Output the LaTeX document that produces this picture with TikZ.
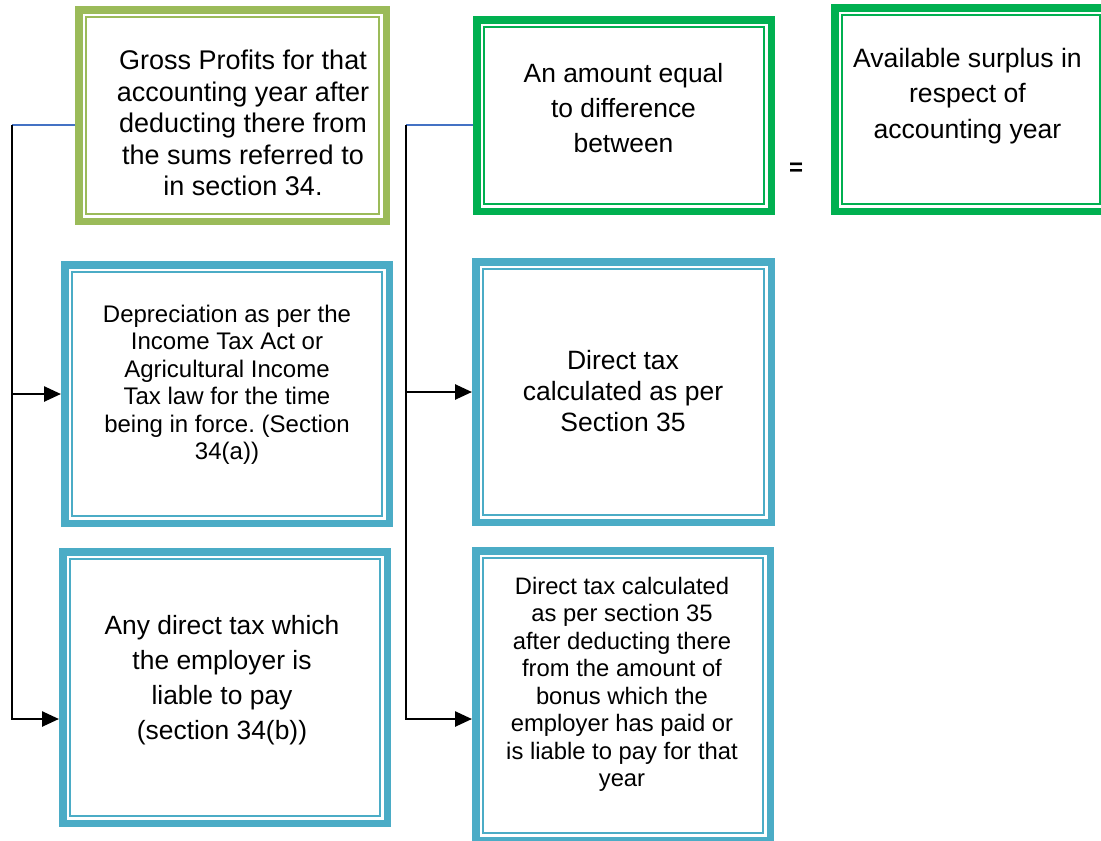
\documentclass[tikz,border=0pt]{standalone}
\usepackage{fontspec}
\setmainfont{Liberation Sans}
\usetikzlibrary{arrows.meta}
\definecolor{olivegreen}{HTML}{9BBB59}
\definecolor{brightgreen}{HTML}{00B050}
\definecolor{tealblue}{HTML}{4BACC6}
\definecolor{linkblue}{HTML}{4472C4}
\frenchspacing

\begin{document}
\begin{tikzpicture}[x=1pt,y=-1pt]
\tikzset{
  frame/.style={draw=#1, line width=7.5pt, rectangle, inner sep=0pt,
                outer sep=3.75pt, fill=white},
  boxtext/.style={anchor=north, inner sep=0pt, align=center, text=black},
  arrowline/.style={draw=black, line width=2.6pt, -{Triangle[length=17pt,width=15pt]}},
  link/.style={draw=linkblue, line width=1.5pt},
}
\useasboundingbox (0,0) rectangle (1101,841);
\clip (0,0) rectangle (1101,841);

% outer frames
\node[frame=olivegreen,  minimum width=307.5pt, minimum height=211.5pt] (b1) at (232.5,115.5) {};
\node[frame=brightgreen, minimum width=294.5pt, minimum height=191.5pt] (b2) at (624,115.5) {};
\node[frame=brightgreen, minimum width=272.5pt, minimum height=203.5pt] (b3) at (971,109.5) {};
\node[frame=tealblue,    minimum width=324.5pt, minimum height=258.5pt] (b4) at (227,394) {};
\node[frame=tealblue,    minimum width=324.5pt, minimum height=271.5pt] (b5) at (225,687.5) {};
\node[frame=tealblue,    minimum width=295.5pt, minimum height=260.5pt] (b6) at (623.5,392) {};
\node[frame=tealblue,    minimum width=294.5pt, minimum height=289.5pt] (b7) at (623,695.5) {};

% thin inner frames
\foreach \b/\c in {b1/olivegreen,b2/brightgreen,b3/brightgreen,b4/tealblue,b5/tealblue,b6/tealblue,b7/tealblue}
  \draw[draw=\c, line width=1.8pt]
    ([shift={(11pt,-11pt)}]\b.north west) rectangle ([shift={(-11pt,11pt)}]\b.south east);

% texts
\node[boxtext, font=\fontsize{27}{31.5}\selectfont] (t1) at (243,50)
  {Gross Profits for that\\accounting year after\\deducting there from\\the sums referred to\\in section 34.};
\node[boxtext, font=\fontsize{26.4}{35}\selectfont] (t2) at (623.5,63)
  {An amount equal\\to difference\\between};
\node[boxtext, font=\fontsize{26.6}{35.5}\selectfont] (t3) at (967.5,48)
  {Available surplus in\\respect of\\accounting year};
\node[boxtext, font=\fontsize{24}{27.4}\selectfont] (t4) at (227,305)
  {Depreciation as per the\\Income Tax Act or\\Agricultural Income\\Tax law for the time\\being in force. (Section\\34(a))};
\node[boxtext, font=\fontsize{26.4}{35}\selectfont] (t5) at (222,615)
  {Any direct tax which\\the employer is\\liable to pay\\(section 34(b))};
\node[boxtext, font=\fontsize{26.5}{31}\selectfont] (t6) at (623,350)
  {Direct tax\\calculated as per\\Section 35};
\node[boxtext, font=\fontsize{23.8}{27.5}\selectfont] (t7) at (622,577)
  {Direct tax calculated\\as per section 35\\after deducting there\\from the amount of\\bonus which the\\employer has paid or\\is liable to pay for that\\year};
\node[font=\bfseries\fontsize{24}{28}\selectfont, inner sep=0pt] (eq) at (796,169) {=};

% connectors
\coordinate (lt) at (12,125);
\coordinate (lb) at (12,719);
\coordinate (rt) at (406,125);
\coordinate (rb) at (406,719);

\draw[link] (lt) -- (lt -| b1.west);
\draw[link] (rt) -- (rt -| b2.west);
\draw[arrowline] (lt) -- (lb) -- (lb -| b5.west);
\draw[arrowline] (lt |- b4.west) -- (b4.west);
\draw[arrowline] (rt) -- (rb) -- (rb -| b7.west);
\draw[arrowline] (rt |- b6.west) -- (b6.west);
\end{tikzpicture}
\end{document}
